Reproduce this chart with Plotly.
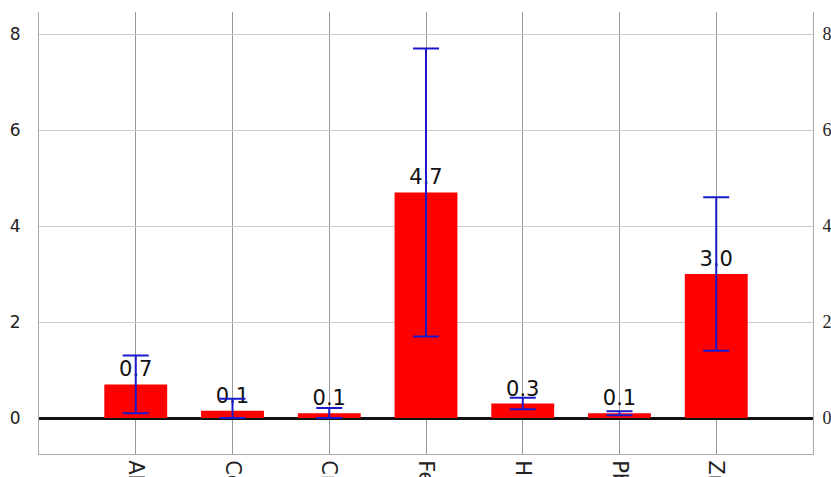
import plotly.graph_objects as go

elements = ["Al", "Co", "Cr", "Fe", "Hg", "Pb", "Zn"]
means = [0.7, 0.15, 0.1, 4.7, 0.3, 0.1, 3.0]
labels = ["0.7", "0.1", "0.1", "4.7", "0.3", "0.1", "3.0"]
err_plus = [0.6, 0.25, 0.11, 3.0, 0.12, 0.04, 1.6]
err_minus = [0.6, 0.15, 0.1, 3.0, 0.12, 0.04, 1.6]
y_ticks = [0, 2, 4, 6, 8]

fig = go.Figure()
fig.add_trace(go.Bar(
    x=list(range(len(elements))), y=means, width=0.65,
    marker=dict(color="#ff0000", line=dict(width=0)),
    text=labels, textposition="outside", cliponaxis=False,
    textfont=dict(family="DejaVu Sans, sans-serif", size=21, color="#111111"),
    error_y=dict(type="data", array=err_plus, arrayminus=err_minus, symmetric=False,
                 visible=True, color="#1a1acc", thickness=2, width=13),
    showlegend=False,
))
fig.add_trace(go.Scatter(x=[0], y=[0], yaxis="y2", mode="markers",
                         marker=dict(opacity=0), showlegend=False, hoverinfo="skip"))

fig.update_layout(
    width=831, height=477,
    margin=dict(l=39, r=18, t=12, b=23),
    paper_bgcolor="white", plot_bgcolor="white",
    xaxis=dict(
        range=[-1, 7], tickmode="array", tickvals=list(range(len(elements))), ticktext=elements,
        tickangle=90, showgrid=True, gridcolor="#999999", gridwidth=1,
        showline=True, linecolor="#aaaaaa", linewidth=1, automargin=False,
        tickfont=dict(family="DejaVu Sans, sans-serif", size=21, color="#222222"),
        ticks="", ticklabelstandoff=1, zeroline=False, ticklabeloverflow="allow",
    ),
    yaxis=dict(
        range=[-0.75, 8.46], tickmode="array", tickvals=y_ticks,
        showgrid=True, gridcolor="#cccccc", gridwidth=1,
        zeroline=True, zerolinecolor="#111111", zerolinewidth=2.5,
        showline=True, linecolor="#aaaaaa", linewidth=1, automargin=False,
        tickfont=dict(family="DejaVu Sans, sans-serif", size=17, color="#222222"),
        ticks="", ticklabelstandoff=14, ticklabeloverflow="allow",
    ),
    yaxis2=dict(
        range=[-0.75, 8.46], tickmode="array", tickvals=y_ticks, overlaying="y", side="right",
        showgrid=False, zeroline=False, showline=True, linecolor="#aaaaaa", linewidth=1,
        automargin=False, ticklabeloverflow="allow", anchor="x",
        tickfont=dict(family="Liberation Serif, serif", size=18, color="#222222"),
        ticks="", ticklabelstandoff=5,
    ),
    bargap=0.35,
)

fig.write_html("out.html", config={"displayModeBar": False},
               post_script="document.body.style.margin='0';document.body.style.overflow='hidden';")
